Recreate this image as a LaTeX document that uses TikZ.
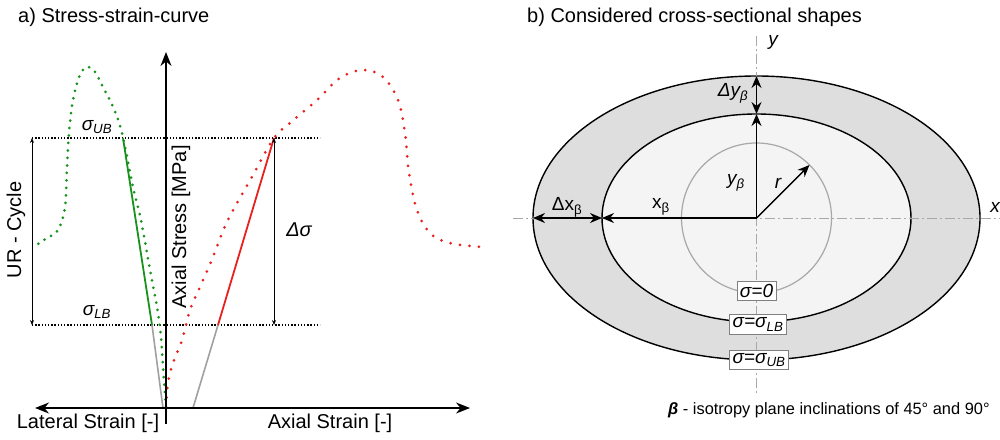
\documentclass[tikz,border=0pt]{standalone}
\usepackage{fontspec}
\setmainfont{Liberation Sans}
\usetikzlibrary{arrows.meta}

\definecolor{curvegreen}{HTML}{17921A}
\definecolor{curvered}{HTML}{E8201E}
\definecolor{unloadgray}{HTML}{A0A0A0}
\definecolor{ringfill}{HTML}{DEDEDE}
\definecolor{corefill}{HTML}{F4F4F4}
\definecolor{centergray}{HTML}{A8A8A8}

\begin{document}
\begin{tikzpicture}[x=1pt, y=-1pt,
    lbl/.style={font=\fontsize{20}{24}\selectfont, inner sep=0pt},
    sig/.style={font=\fontsize{19}{22}\selectfont\itshape, inner sep=0pt},
    bound/.style={line width=1.6pt, dash pattern=on 1.4pt off 1.8pt},
    dimarrow/.style={line width=0.8pt, {Stealth[length=5pt,width=4pt]}-{Stealth[length=5pt,width=4pt]}},
    axisarrow/.style={line width=1.4pt, -{Stealth[length=14pt,width=11pt]}},
    geomarrow/.style={line width=1.4pt, -{Stealth[length=12pt,width=10pt]}},
    unload/.style={line width=1.6pt, unloadgray},
    centerline/.style={centergray, line width=1pt, dash pattern=on 10pt off 3pt on 2pt off 3pt},
    statebox/.style={draw=gray, fill=white, line width=0.8pt, font=\fontsize{19}{22}\selectfont\itshape, inner xsep=3pt, inner ysep=3pt}]
    \useasboundingbox (0,0) rectangle (1000,439);

    % a) stress-strain curve
    \node[lbl, anchor=west] (titleA) at (18,17) {a) Stress-strain-curve};

    \coordinate (O) at (166,408);
    \coordinate (xL) at (35,408);
    \coordinate (xR) at (470,408);
    \coordinate (yB) at (166,424);
    \coordinate (yT) at (166,52);

    \coordinate (ubL) at (32,138);
    \coordinate (ubR) at (320,138);
    \coordinate (lbL) at (32,325);
    \coordinate (lbR) at (320,325);

    \draw[bound] (ubL) -- (ubR);
    \draw[bound] (lbL) -- (lbR);

    % lateral (green) and axial (red) curves
    \draw[curvegreen, line width=3pt, line cap=round, dash pattern=on 0pt off 7.5pt]
        plot[smooth, tension=0.6] coordinates {(166,407) (163,367) (161,337) (157,307) (150,270) (141,220) (133,187) (122,133) (113,107) (103,87) (95,72) (87,67) (80,75) (73,100) (69,133) (67,167) (65,207) (58,230) (47,238) (38,244)};
    \draw[curvered, line width=3pt, line cap=round, dash pattern=on 0pt off 9.5pt]
        plot[smooth, tension=0.6] coordinates {(166,407) (168,383) (173,363) (182,340) (190,310) (200,287) (213,257) (227,222) (253,175) (274,138) (290,123) (317,100) (340,78) (363,70) (383,77) (398,100) (405,133) (409,173) (417,210) (430,233) (450,243) (482,247)};

    % unloading-reloading branches
    \coordinate (gU) at (123,138);
    \coordinate (gL) at (152,325);
    \coordinate (gO) at (163,408);
    \coordinate (rU) at (274,138);
    \coordinate (rL) at (218,325);
    \coordinate (rO) at (193,408);
    \draw[curvegreen, line width=1.8pt] (gU) -- (gL);
    \draw[unload] (gL) -- (gO);
    \draw[curvered, line width=1.8pt] (rU) -- (rL);
    \draw[unload] (rL) -- (rO);

    \draw[dimarrow] (ubL) -- (lbL);
    \draw[dimarrow] (rU) -- (rU |- lbL);

    % axes
    \draw[axisarrow, {Stealth[length=14pt,width=11pt]}-{Stealth[length=14pt,width=11pt]}] (xL) -- (xR);
    \draw[axisarrow] (yB) -- (yT);

    \node[sig] (sigUB) at (97,127) {σ\textsubscript{UB}};
    \node[sig] (sigLB) at (97,312) {σ\textsubscript{LB}};
    \node[sig, font=\fontsize{20}{24}\selectfont\itshape] (dSig) at (299,230) {Δσ};
    \node[lbl, rotate=90] (urLbl) at (16,230) {UR - Cycle};
    \node[lbl, rotate=90] (stressLbl) at (181,227) {Axial Stress [MPa]};
    \node[lbl] (latLbl) at (88,423) {Lateral Strain [-]};
    \node[lbl] (axLbl) at (330,423) {Axial Strain [-]};

    % b) cross sections
    \node[lbl, anchor=west] (titleB) at (527,17) {b) Considered cross-sectional shapes};

    \coordinate (C) at (756.5,218);
    \filldraw[fill=ringfill, line width=1.4pt] (C) ellipse [x radius=223.5, y radius=142];
    \filldraw[fill=corefill, line width=1.4pt] (C) ellipse [x radius=154.5, y radius=104];
    \draw[centergray, line width=1.2pt] (C) circle [radius=75];

    \coordinate (yTop) at (756.5,36);
    \coordinate (yBot) at (756.5,395);
    \coordinate (xLeft) at (513,218);
    \coordinate (xRight) at (1000,218);
    \draw[centerline] (yTop) -- (yBot);
    \draw[centerline] (xLeft) -- (xRight);

    \coordinate (outT) at (756.5,76);
    \coordinate (inT) at (756.5,114);
    \coordinate (outL) at (533,218);
    \coordinate (inL) at (602,218);
    \coordinate (rEnd) at (809.5,165);
    \draw[geomarrow] (C) -- (inT);
    \draw[geomarrow, {Stealth[length=12pt,width=10pt]}-{Stealth[length=12pt,width=10pt]}] (inT) -- (outT);
    \draw[geomarrow] (C) -- (inL);
    \draw[geomarrow, {Stealth[length=12pt,width=10pt]}-{Stealth[length=12pt,width=10pt]}] (inL) -- (outL);
    \draw[geomarrow] (C) -- (rEnd);

    \node[sig] (yLbl) at (773,42) {y};
    \node[sig, anchor=east] (xLbl) at (1000,207) {x};
    \node[sig] (dyLbl) at (733,93) {Δy\textsubscript{β}};
    \node[sig] (ybLbl) at (736,183) {y\textsubscript{β}};
    \node[sig] (rLbl) at (778,183) {r};
    \node[lbl, font=\fontsize{19}{22}\selectfont] (xbLbl) at (661,207) {x\textsubscript{β}};
    \node[lbl, font=\fontsize{19}{22}\selectfont] (dxLbl) at (567,207) {Δx\textsubscript{β}};

    \node[statebox] (box0) at (756.5,291) {σ=0};
    \node[statebox] (boxLB) at (758,324.5) {σ=σ\textsubscript{LB}};
    \node[statebox] (boxUB) at (759,360) {σ=σ\textsubscript{UB}};

    \node[font=\fontsize{16.4}{19}\selectfont, anchor=west, inner sep=0pt] (note) at (668,410) {\textbf{\textit{β}} - isotropy plane inclinations of 45° and 90°};
\end{tikzpicture}
\end{document}
